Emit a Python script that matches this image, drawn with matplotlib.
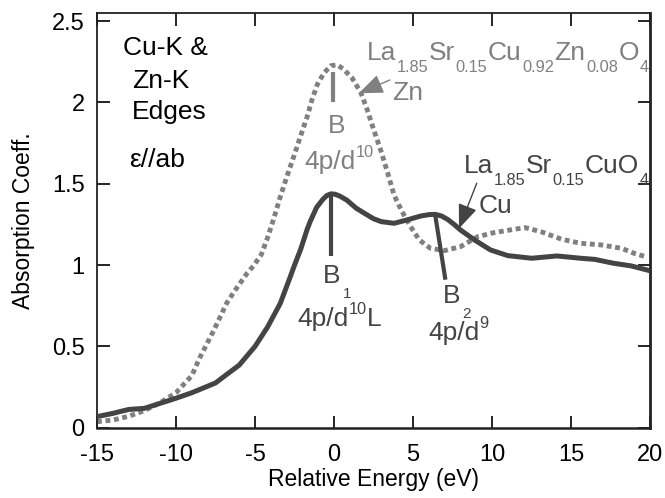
import matplotlib
matplotlib.use("Agg")
import matplotlib.pyplot as plt
from matplotlib.transforms import offset_copy

plt.rcParams["font.family"] = ["Liberation Sans", "DejaVu Sans"]

# Cu K-edge, La1.85Sr0.15CuO4 (solid)
cu_energy = [-15, -14, -13, -12, -11, -10, -9, -8.5, -7.5, -7, -6, -5, -4.2, -3.4,
             -2.8, -2.5, -2.1, -1.7, -1.5, -1.1, -0.7, -0.45, -0.2, 0.05, 0.35,
             0.8, 1.4, 1.9, 2.5, 3, 3.8, 4.6, 5.5, 6.0, 6.4, 6.8, 7.2, 7.6, 8,
             8.9, 9.9, 11, 12.5, 14.1, 15.6, 16.5, 17.7, 18.8, 20]
cu_absorption = [0.068, 0.088, 0.112, 0.119, 0.150, 0.181, 0.215, 0.235, 0.275,
                 0.312, 0.385, 0.50, 0.62, 0.765, 0.92, 1.00, 1.10, 1.22, 1.27,
                 1.355, 1.405, 1.428, 1.438, 1.436, 1.425, 1.40, 1.35, 1.32,
                 1.285, 1.267, 1.257, 1.277, 1.302, 1.31, 1.312, 1.302, 1.28,
                 1.25, 1.216, 1.154, 1.093, 1.058, 1.042, 1.056, 1.042, 1.035,
                 1.011, 0.995, 0.965]

# Zn K-edge, La1.85Sr0.15Cu0.92Zn0.08O4 (dotted)
zn_energy = [-15, -14, -13, -12, -11, -10, -9, -8.5, -7.6, -6.8, -6.3, -5.9, -5.5,
             -5.1, -4.6, -4.2, -3.8, -3.4, -3.0, -2.55, -2.13, -1.7, -1.4, -1.07,
             -0.65, -0.2, 0.2, 0.6, 1.15, 1.7, 2.1, 2.5, 2.95, 3.4, 3.8, 4.3,
             4.85, 5.4, 6.1, 7.0, 8.0, 9.1, 10.1, 11.4, 12.1, 13.1, 14.4, 15.6,
             16.9, 18.2, 19.0, 19.7]
zn_absorption = [0.037, 0.047, 0.070, 0.105, 0.154, 0.215, 0.32, 0.43, 0.60, 0.765,
                 0.84, 0.895, 0.95, 0.995, 1.065, 1.17, 1.29, 1.42, 1.54, 1.667,
                 1.79, 1.913, 2.015, 2.108, 2.18, 2.226, 2.231, 2.205, 2.149, 2.06,
                 1.955, 1.835, 1.708, 1.565, 1.43, 1.33, 1.236, 1.154, 1.103,
                 1.089, 1.113, 1.175, 1.199, 1.22, 1.23, 1.205, 1.159, 1.134,
                 1.124, 1.103, 1.072, 1.052]

x_ticks = [-15, -10, -5, 0, 5, 10, 15, 20]
x_tick_labels = ["-15", "-10", "-5", "0", "5", "10", "15", "20"]
y_ticks = [0, 0.5, 1, 1.5, 2, 2.5]
y_tick_labels = ["0", "0.5", "1", "1.5", "2", "2.5"]

# peak markers: (E_top, A_top, E_bottom, A_bottom)
zn_peak_b = (-0.08, 2.19, -0.08, 2.005)
cu_peak_b1 = (-0.18, 1.437, -0.18, 1.055)
cu_peak_b2 = (6.4, 1.31, 7.05, 0.91)

zn_formula = [("La", "n"), ("1.85", "sub"), ("Sr", "n"), ("0.15", "sub"),
              ("Cu", "n"), ("0.92", "sub"), ("Zn", "n"), ("0.08", "sub"),
              ("O", "n"), ("4", "sub")]
cu_formula = [("La", "n"), ("1.85", "sub"), ("Sr", "n"), ("0.15", "sub"),
              ("CuO", "n"), ("4", "sub")]

CU_COLOR = "#444444"
ZN_COLOR = "#808080"
TEXT_SIZE = 19

fig = plt.figure(figsize=(6.65, 4.98), dpi=100)
ax = fig.add_axes([0.1459, 0.1412, 0.8316, 0.8333])
renderer = fig.canvas.get_renderer()

ax.plot(zn_energy, zn_absorption, color=ZN_COLOR, lw=3.5,
        linestyle=(0, (1.0, 0.75)), dash_capstyle="butt", zorder=2)
ax.plot(cu_energy, cu_absorption, color=CU_COLOR, lw=3.6,
        solid_capstyle="round", solid_joinstyle="round", zorder=3)

for (x0, y0, x1, y1), c in [(zn_peak_b, ZN_COLOR), (cu_peak_b1, CU_COLOR),
                            (cu_peak_b2, CU_COLOR)]:
    ax.plot([x0, x1], [y0, y1], color=c, lw=3.0, solid_capstyle="butt", zorder=4)

ax.set_xlim(-15, 20)
ax.set_ylim(0, 2.552)
ax.set_xticks(x_ticks, x_tick_labels)
ax.set_yticks(y_ticks, y_tick_labels)
ax.tick_params(direction="in", length=9, width=1.2, top=True, right=True,
               labelsize=17)
ax.tick_params(axis="x", pad=12)
ax.tick_params(axis="y", pad=9)
for s in ax.spines.values():
    s.set_linewidth(1.3)
    s.set_color("#222222")
ax.spines["right"].set_linewidth(2.0)
ax.spines["bottom"].set_linewidth(1.8)

ax.set_xlabel("Relative Energy (eV)", fontsize=16.5, labelpad=1)
ax.set_ylabel("Absorption Coeff.", fontsize=16.5, labelpad=12)


def rich(x, y, pieces, color, size=TEXT_SIZE, gap=0.3):
    """Draw text made of normal / sub / superscript runs, baseline at (x, y)."""
    dx = 0.0
    for s, kind in pieces:
        if kind == "n":
            fs, dy = size, 0.0
        elif kind == "sub":
            fs, dy = size * 0.62, -0.44 * size
        elif kind == "lowsub":
            fs, dy = size * 0.58, -0.57 * size
        else:  # superscript
            fs, dy = size * 0.62, 0.47 * size
        tr = offset_copy(ax.transData, fig=fig, x=dx, y=dy, units="points")
        t = ax.text(x, y, s, transform=tr, fontsize=fs, color=color,
                    ha="left", va="baseline", zorder=6)
        dx += t.get_window_extent(renderer).width * 72.0 / fig.dpi + gap


# sample / edge description
rich(-13.33, 2.292, [("Cu-K &", "n")], "black")
rich(-12.8, 2.087, [("Zn-K", "n")], "black")
rich(-12.8, 1.897, [("Edges", "n")], "black")
rich(-12.95, 1.605, [("ε//ab", "n")], "black")

# Zn-doped sample
rich(2.1, 2.261, zn_formula, ZN_COLOR)
rich(3.68, 2.015, [("Zn", "n")], ZN_COLOR)
rich(-0.41, 1.81, [("B", "n")], ZN_COLOR)
rich(-1.87, 1.589, [("4p/d", "n"), ("10", "sup")], ZN_COLOR)

# Cu sample
rich(8.23, 1.565, cu_formula, CU_COLOR)
rich(9.18, 1.319, [("Cu", "n")], CU_COLOR)
rich(-0.69, 0.888, [("B", "n"), ("1", "lowsub")], CU_COLOR, gap=1.5)
rich(-2.34, 0.625, [("4p/d", "n"), ("10", "sup"), ("L", "n")], CU_COLOR)
rich(6.86, 0.765, [("B", "n"), ("2", "lowsub")], CU_COLOR, gap=1.5)
rich(5.95, 0.539, [("4p/d", "n"), ("9", "sup")], CU_COLOR)

# arrows pointing to the curves
ax.annotate("", xy=(1.57, 2.057), xytext=(3.53, 2.138),
            arrowprops=dict(arrowstyle="-|>,head_length=0.75,head_width=0.3",
                            mutation_scale=20, lw=1.0, color=ZN_COLOR,
                            shrinkA=0, shrinkB=0), zorder=6)
ax.annotate("", xy=(7.91, 1.225), xytext=(9.03, 1.503),
            arrowprops=dict(arrowstyle="-|>,head_length=0.75,head_width=0.3",
                            mutation_scale=20, lw=1.0, color=CU_COLOR,
                            shrinkA=0, shrinkB=0), zorder=6)

fig.savefig("out.png", dpi=100)
